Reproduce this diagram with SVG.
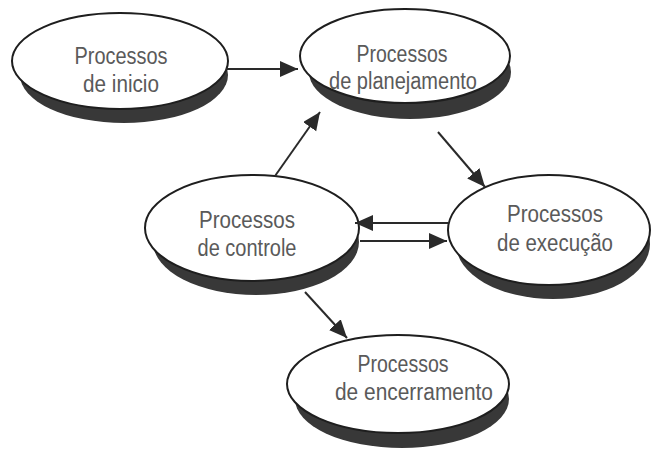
<svg xmlns="http://www.w3.org/2000/svg" width="654" height="451" viewBox="0 0 654 451">
<defs>
<marker id="ah" markerUnits="userSpaceOnUse" markerWidth="20" markerHeight="18" refX="18" refY="8" orient="auto">
<path d="M0,0 L18,8 L0,16 z" fill="#2a2a2a"/>
</marker>
</defs>
<style>
.sh{fill:#383838;}
.el{fill:#fff;stroke:#1e1e1e;stroke-width:2;}
.t{font-family:"Liberation Sans",Arial,sans-serif;font-size:23px;fill:#5a5a5a;text-anchor:middle;}
.c{stroke:#2a2a2a;stroke-width:2;fill:none;marker-end:url(#ah);}
</style>
<rect width="654" height="451" fill="#fff"/>
<g id="inicio">
<ellipse class="sh" cx="124" cy="75" rx="104" ry="48"/>
<ellipse class="el" cx="120" cy="61" rx="108" ry="48"/>
<text class="t" x="121" y="64" textLength="93" lengthAdjust="spacingAndGlyphs">Processos</text>
<text class="t" x="121" y="92" textLength="76" lengthAdjust="spacingAndGlyphs">de inicio</text>
</g>
<g id="planejamento">
<ellipse class="sh" cx="410" cy="72" rx="101" ry="47"/>
<ellipse class="el" cx="405" cy="56" rx="105" ry="47"/>
<text class="t" x="402" y="62" textLength="91" lengthAdjust="spacingAndGlyphs">Processos</text>
<text class="t" x="403" y="89" textLength="148" lengthAdjust="spacingAndGlyphs">de planejamento</text>
</g>
<g id="controle">
<ellipse class="sh" cx="256" cy="242" rx="103" ry="53"/>
<ellipse class="el" cx="252" cy="228" rx="107" ry="53"/>
<text class="t" x="247" y="228" textLength="96" lengthAdjust="spacingAndGlyphs">Processos</text>
<text class="t" x="247" y="256" textLength="99" lengthAdjust="spacingAndGlyphs">de controle</text>
</g>
<g id="execucao">
<ellipse class="sh" cx="553" cy="244" rx="97" ry="55"/>
<ellipse class="el" cx="549" cy="230" rx="101" ry="55"/>
<text class="t" x="555" y="222" textLength="96" lengthAdjust="spacingAndGlyphs">Processos</text>
<text class="t" x="555" y="251" textLength="116" lengthAdjust="spacingAndGlyphs">de execução</text>
</g>
<g id="encerramento">
<ellipse class="sh" cx="402" cy="399" rx="107" ry="49"/>
<ellipse class="el" cx="398" cy="384" rx="111" ry="49"/>
<text class="t" x="403" y="372" textLength="91" lengthAdjust="spacingAndGlyphs">Processos</text>
<text class="t" x="414" y="400" textLength="158" lengthAdjust="spacingAndGlyphs">de encerramento</text>
</g>
<g id="connectors">
<line class="c" x1="226" y1="69" x2="298" y2="69"/>
<line class="c" x1="275" y1="176" x2="320" y2="112"/>
<line class="c" x1="438" y1="132" x2="485" y2="187"/>
<line class="c" x1="448" y1="223" x2="355" y2="223"/>
<line class="c" x1="360" y1="241" x2="447" y2="241"/>
<line class="c" x1="305" y1="292" x2="347" y2="338"/>
</g>
</svg>
